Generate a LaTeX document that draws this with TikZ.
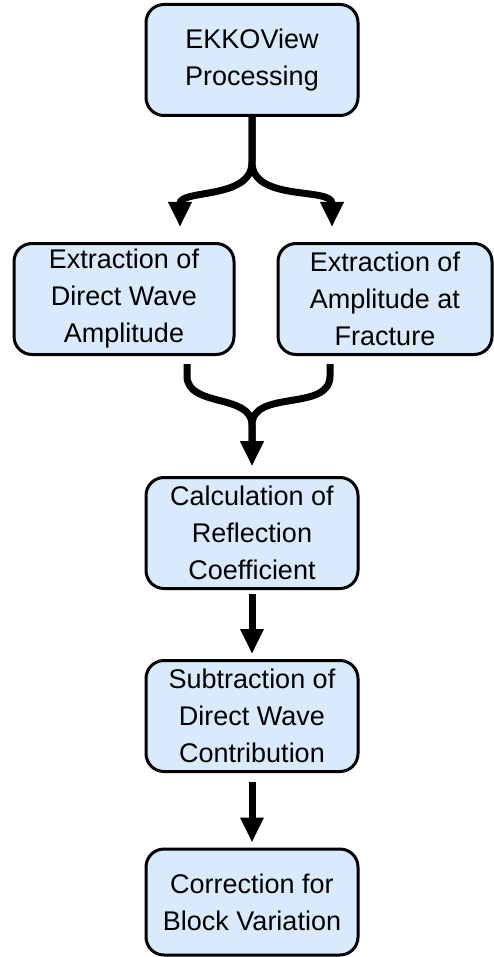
\documentclass[tikz,border=0pt]{standalone}
\usepackage{fontspec}
\setmainfont{Liberation Sans}
\usetikzlibrary{ arrows.meta
               , positioning
               }
\definecolor{boxblue}{HTML}{D8EAFC}

\begin{document}
\begin{tikzpicture}
      [ x=0.5pt, y=-0.5pt
      , stage/.style={draw=black, line width=1.5pt, fill=boxblue, rounded corners=9pt,
                      align=center, inner sep=0pt, minimum width=106pt, minimum height=55.5pt,
                      font=\fontsize{13.5}{18.5}\selectfont}
      , flow/.style={line width=3.5pt, -{Triangle[length=12.5pt,width=11pt]}}
      ]
    \useasboundingbox (0,0) rectangle (493,957);

    \node[stage] (EP) at (252,60) {EKKOView\\Processing};
    \node[stage, minimum width=110pt] (DW) at (124,299) {Extraction of\\Direct Wave\\Amplitude};
    \node[stage, minimum width=107pt] (AF) at (385,299) {Extraction of\\Amplitude at\\Fracture};
    \node[stage] (RC) at (252,533) {Calculation of\\Reflection\\Coefficient};
    \node[stage] (SD) at (252,716) {Subtraction of\\Direct Wave\\Contribution};
    \node[stage, minimum height=53pt] (BV) at (252,902) {Correction for\\Block Variation};

    \coordinate (S) at (252,162);
    \coordinate (M) at (252,425);

    \draw[flow] (EP.south) -- (S) to[out=-90, in=90] ([xshift=28pt, yshift=7.5pt]DW.north);
    \draw[flow] (EP.south) -- (S) to[out=-90, in=90] ([xshift=-26.5pt, yshift=7.5pt]AF.north);

    \draw[flow] ([xshift=31.5pt, yshift=-4pt]DW.south) -- ++(0,12) to[out=-90, in=90] (M)
                -- ([yshift=5pt]RC.north);
    \draw[flow] ([xshift=-27.5pt, yshift=-4pt]AF.south) -- ++(0,12) to[out=-90, in=90] (M)
                -- ([yshift=5pt]RC.north);

    \draw[flow] ([yshift=-2pt]RC.south) -- ([yshift=2.5pt]SD.north);
    \draw[flow] ([yshift=-4.5pt]SD.south) -- ([yshift=2.5pt]BV.north);
\end{tikzpicture}
\end{document}
